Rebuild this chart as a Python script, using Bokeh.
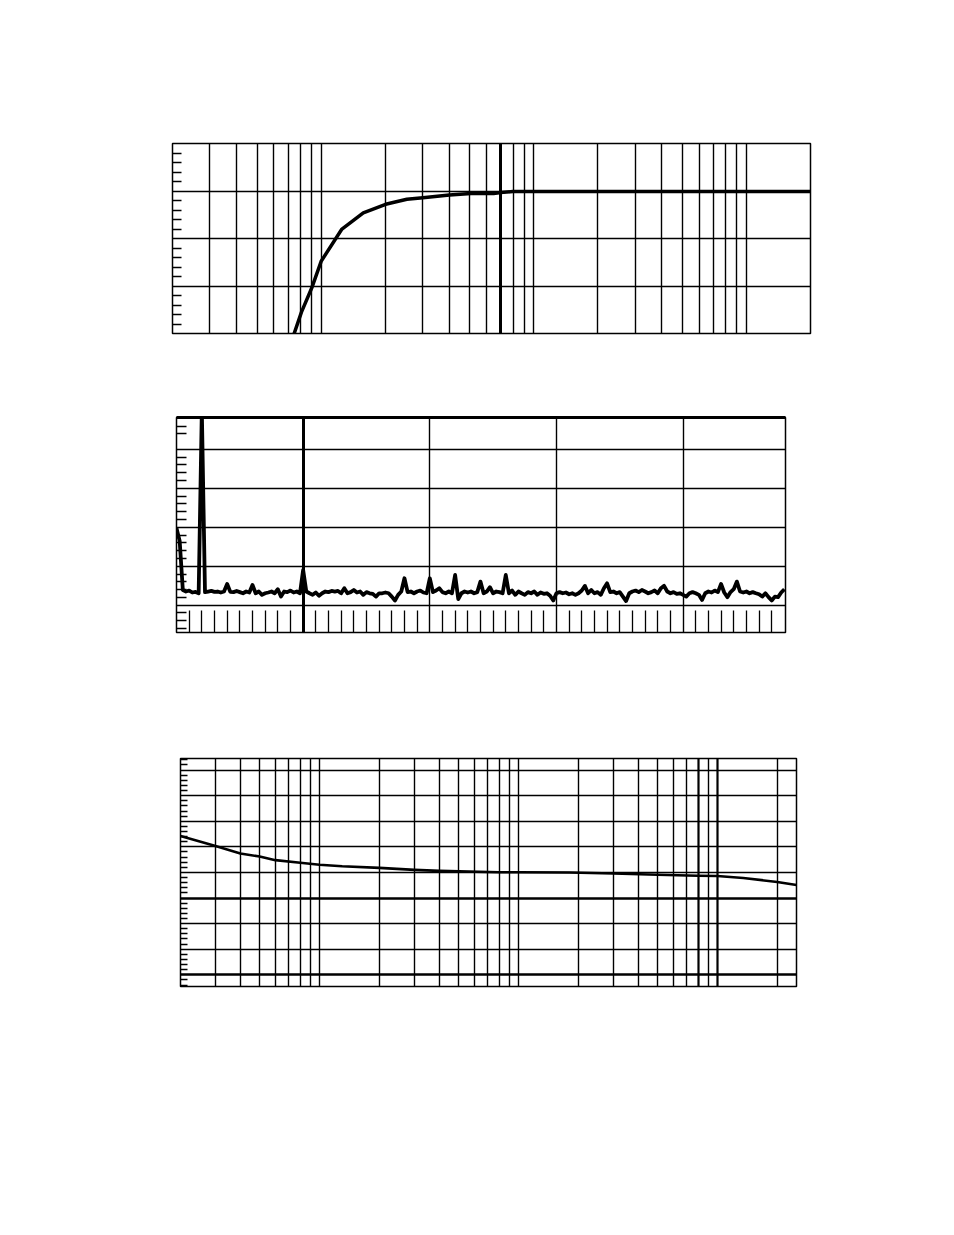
from bokeh.plotting import figure
from bokeh.models import FixedTicker, LinearAxis, Grid, CustomJSTickFormatter, Spacer
from bokeh.layouts import column, row
from bokeh.embed import file_html
from bokeh.resources import INLINE

# ---------------- data: chart 1 (frequency response, log x) ----------------
resp_freq = [72.1, 80.8, 90.7, 100, 124.8, 157.8, 201, 253, 301, 401, 507, 647,
             700, 796, 1000, 2000, 5000, 10000, 20000]
resp_db = [-3.2, -2.55, -2.02, -1.48, -0.81, -0.46, -0.28, -0.175, -0.14, -0.084,
           -0.055, -0.055, -0.03, -0.013, -0.01, -0.01, -0.01, -0.01, -0.01]
c1_xgrid = [30, 40, 50, 60, 70, 80, 90, 100, 200, 300, 400, 500, 600, 700, 800, 900,
            1000, 2000, 3000, 4000, 5000, 6000, 7000, 8000, 9000, 10000]
c1_xbold = [700]
c1_ygrid = [-2, -1, 0]
c1_yminor = [-2.8, -2.6, -2.4, -2.2, -1.8, -1.6, -1.4, -1.2, -0.8, -0.6, -0.4, -0.2,
             0.2, 0.4, 0.6, 0.8]

# ---------------- data: chart 2 (FFT spectrum, linear x) ----------------
BIN_HZ = 125
spec_db = [
    -40.5, -47.0, -72.2, -73.0, -72.5, -73.5, -73.2, -73.9,
    20.0, -73.3, -73.0, -72.7, -73.2, -73.0, -73.5, -73.0,
    -69.1, -73.2, -73.3, -72.7, -73.3, -73.9, -73.0, -73.5,
    -69.6, -73.9, -73.0, -74.7, -73.9, -73.5, -73.0, -73.9,
    -71.8, -75.6, -73.0, -73.3, -72.5, -73.5, -73.0, -73.9,
    -61.9, -73.0, -73.9, -74.7, -73.5, -75.2, -73.9, -73.0,
    -73.3, -72.7, -73.0, -72.7, -73.9, -71.3, -73.9, -73.3,
    -72.2, -73.5, -73.0, -74.7, -73.3, -73.9, -74.2, -75.6,
    -73.9, -73.9, -73.5, -73.9, -75.6, -77.6, -74.7, -73.0,
    -66.2, -73.3, -73.0, -73.9, -73.0, -72.5, -73.5, -73.9,
    -66.2, -73.3, -72.5, -71.3, -73.3, -73.9, -73.0, -73.9,
    -64.5, -76.9, -73.9, -73.0, -73.5, -73.0, -73.9, -73.3,
    -67.9, -73.9, -73.0, -70.8, -73.9, -73.0, -73.3, -73.9,
    -64.5, -73.9, -72.5, -74.7, -73.0, -73.9, -74.7, -73.3,
    -73.9, -73.0, -74.7, -73.5, -74.2, -73.9, -75.2, -77.6,
    -73.9, -73.3, -73.9, -73.5, -74.4, -73.9, -74.7, -73.9,
    -72.5, -70.1, -73.9, -72.2, -73.9, -73.3, -74.7, -71.3,
    -68.8, -73.3, -73.0, -73.9, -73.3, -75.6, -77.9, -73.9,
    -73.0, -72.5, -73.3, -72.2, -73.0, -73.9, -73.3, -72.5,
    -73.9, -71.3, -70.1, -73.0, -73.9, -73.3, -74.2, -73.9,
    -74.7, -75.6, -73.9, -73.3, -73.9, -74.7, -77.3, -73.9,
    -73.0, -73.5, -72.5, -73.3, -69.1, -73.5, -75.9, -73.3,
    -71.8, -67.9, -73.0, -73.5, -73.0, -73.9, -73.3, -73.9,
    -74.4, -75.6, -73.9, -75.9, -77.6, -75.6, -75.9, -73.5,
    -71.8,
]
spec_freq = [i * BIN_HZ for i in range(len(spec_db))]
c2_xgrid = [5000, 10000, 15000, 20000]
c2_xbold = [5000]
c2_ygrid = [-80, -60, -40, -20, 0]
c2_yminor = [-92, -88, -84, -76, -72, -68, -64, -56, -52, -48, -44, -36, -32, -28, -24,
             -16, -12, -8, -4, 8, 12]
c2_xminor = [500, 1000, 1500, 2000, 2500, 3000, 3500, 4000, 4500, 5500, 6000, 6500,
             7000, 7500, 8000, 8500, 9000, 9500, 10500, 11000, 11500, 12000, 12500,
             13000, 13500, 14000, 14500, 15500, 16000, 16500, 17000, 17500, 18000,
             18500, 19000, 19500, 20500, 21000, 21500, 22000, 22500, 23000, 23500]

# ---------------- data: chart 3 (log x) ----------------
c3_freq = [20, 30, 40, 50, 60, 80, 100, 130, 200, 300, 400, 800, 1000, 1800, 3000,
           5000, 8000, 10000, 13500, 20000, 25000]
c3_val = [5.42, 5.03, 4.74, 4.62, 4.48, 4.38, 4.30, 4.24, 4.18, 4.10, 4.06, 4.01,
          4.01, 4.00, 3.96, 3.91, 3.87, 3.86, 3.78, 3.63, 3.51]
c3_xgrid = [30, 40, 50, 60, 70, 80, 90, 100, 200, 300, 400, 500, 600, 700, 800, 900,
            1000, 2000, 3000, 4000, 5000, 6000, 7000, 9000, 20000]
c3_xbold = [8000, 10000]
c3_ygrid = [1, 2, 4, 5, 6, 7, 8]
c3_ybold = [0, 3]
c3_yminor = [-0.4, -0.2, 0.2, 0.4, 0.6, 0.8, 1.2, 1.4, 1.6, 1.8, 2.2, 2.4, 2.6, 2.8,
             3.2, 3.4, 3.6, 3.8, 4.2, 4.4, 4.6, 4.8, 5.2, 5.4, 5.6, 5.8, 6.2, 6.4,
             6.6, 6.8, 7.2, 7.4, 7.6, 7.8, 8.2, 8.4]

LEFT = 172


def make_fig(x_type, xr, yr, fw, fh, top, bottom, right=20):
    p = figure(x_axis_type=x_type, x_range=xr, y_range=yr, frame_width=fw, frame_height=fh,
               min_border_left=LEFT, min_border_right=right, min_border_top=top,
               min_border_bottom=bottom, toolbar_location=None, output_backend="svg")
    p.xaxis.visible = False
    p.yaxis.visible = False
    p.xgrid.visible = False
    p.ygrid.visible = False
    p.outline_line_color = "black"
    p.outline_line_width = 1.5
    p.outline_line_alpha = 1.0
    p.background_fill_color = "white"
    p.border_fill_color = "white"
    return p


def add_grid(p, dim, ticks, width=1.4):
    p.add_layout(Grid(dimension=dim, ticker=FixedTicker(ticks=ticks, minor_ticks=[]),
                      grid_line_color="black", grid_line_width=width, grid_line_alpha=1.0))


def tick_axis(ticks, tick_in, width=1.3):
    return LinearAxis(ticker=FixedTicker(ticks=ticks, minor_ticks=[]),
                      formatter=CustomJSTickFormatter(code="return ''"),
                      major_tick_in=tick_in, major_tick_out=0,
                      minor_tick_in=0, minor_tick_out=0,
                      axis_line_color=None, major_tick_line_color="black",
                      major_tick_line_width=width, major_label_standoff=0,
                      major_label_text_font_size="1px")


# chart 1
p1 = make_fig("log", (20, 20000), (-3, 1), 638, 190, top=143, bottom=40)
add_grid(p1, 0, c1_xgrid)
add_grid(p1, 0, c1_xbold, width=3)
add_grid(p1, 1, c1_ygrid)
p1.add_layout(tick_axis(c1_yminor, 9), "left")
p1.line(resp_freq, resp_db, line_color="black", line_width=3.5, line_join="round")

# chart 2
p2 = make_fig("linear", (0, 24044), (-94.05, 16.4), 609, 215, top=44, bottom=40)
add_grid(p2, 0, c2_xgrid)
add_grid(p2, 0, c2_xbold, width=3)
add_grid(p2, 1, c2_ygrid)
p2.add_layout(tick_axis(c2_yminor, 10), "left")
p2.add_layout(tick_axis(c2_xminor, 22), "below")
top_ax = LinearAxis(ticker=FixedTicker(ticks=[], minor_ticks=[]),
                    formatter=CustomJSTickFormatter(code="return ''"),
                    axis_line_color="black", axis_line_width=3,
                    major_tick_in=0, major_tick_out=0, minor_tick_in=0, minor_tick_out=0,
                    major_label_text_font_size="1px")
p2.add_layout(top_ax, "above")
p2.line(spec_freq, spec_db, line_color="black", line_width=3.8, line_join="round")

# chart 3
p3 = make_fig("log", (20, 25000), (-0.457, 8.453), 616, 228, top=86, bottom=20)
add_grid(p3, 0, c3_xgrid)
add_grid(p3, 0, c3_xbold, width=2.2)
add_grid(p3, 1, c3_ygrid)
add_grid(p3, 1, c3_ybold, width=2.6)
p3.add_layout(tick_axis(c3_yminor, 7), "left")
p3.line(c3_freq, c3_val, line_color="black", line_width=2.6, line_join="round")

layout = column(
    p1,
    row(Spacer(width=4, height=10), p2, spacing=0),
    row(Spacer(width=8, height=10), p3, spacing=0),
    spacing=0,
)
open("out.html", "w").write(file_html(layout, INLINE))
